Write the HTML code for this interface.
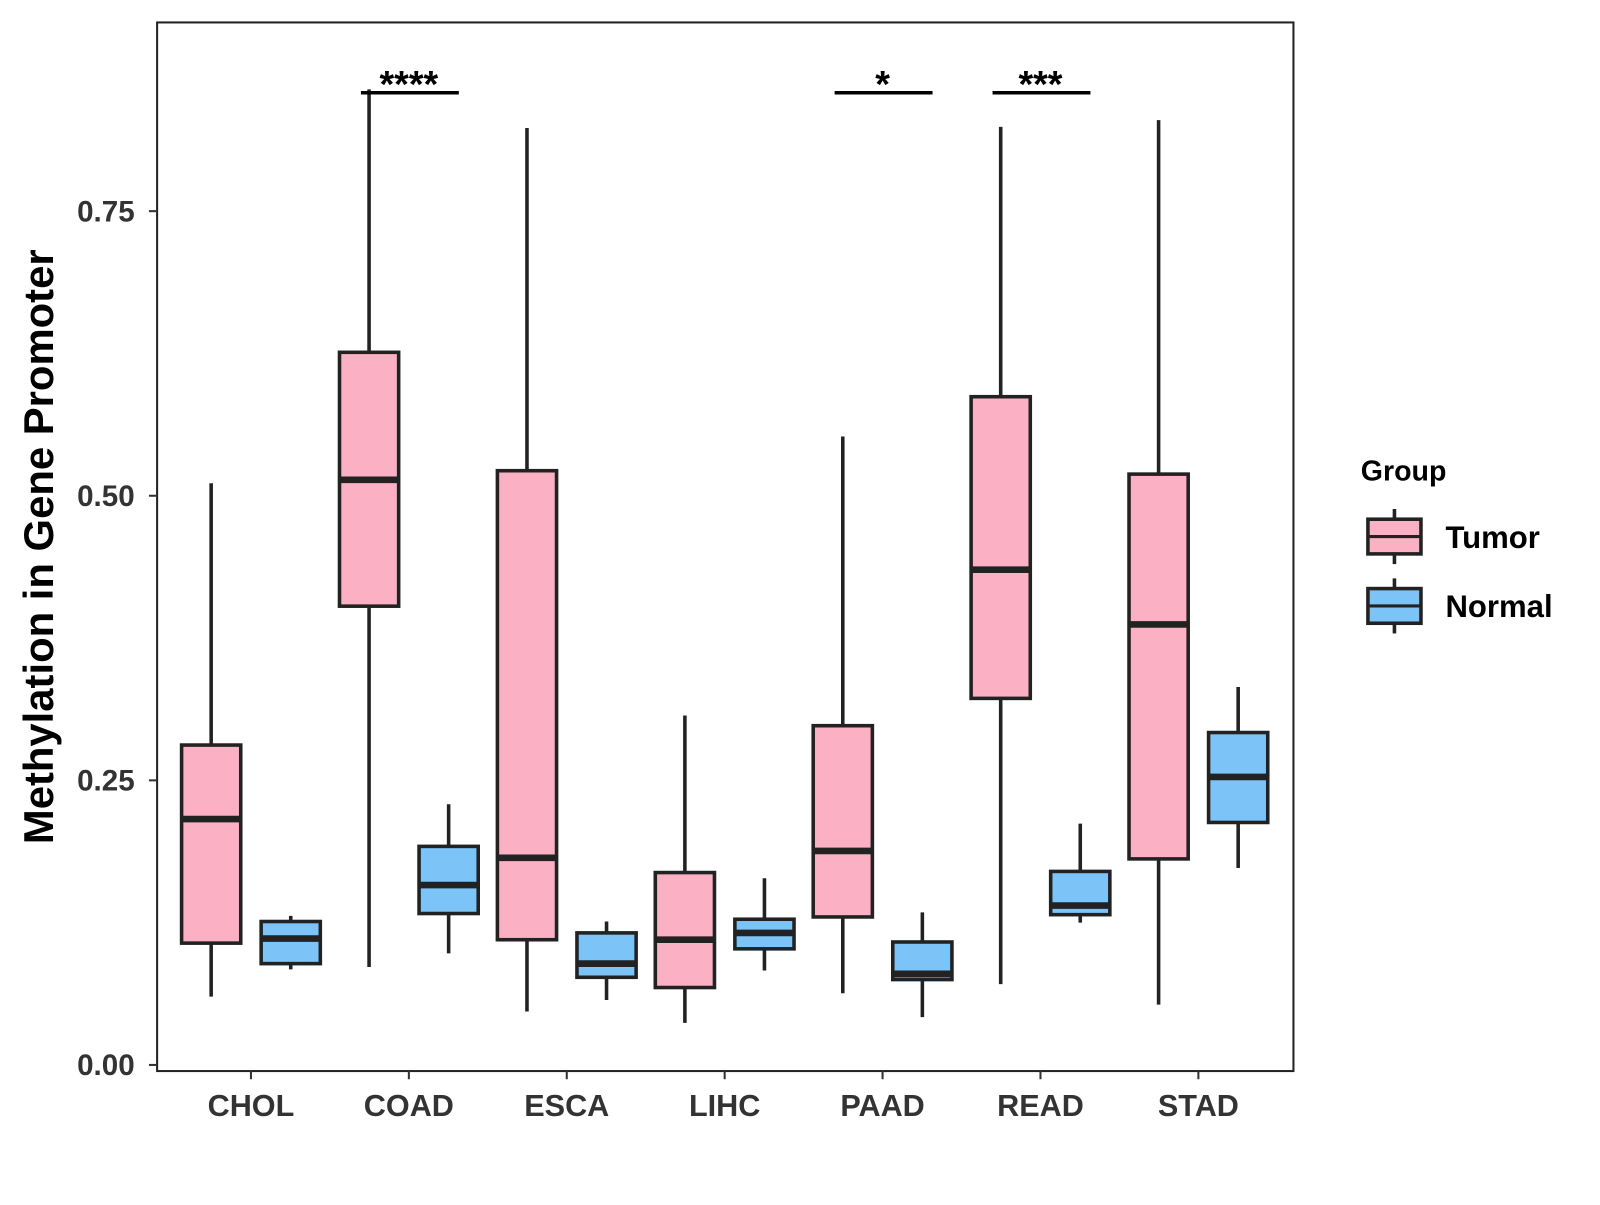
<!DOCTYPE html>
<html><head><meta charset="utf-8"><style>
body{margin:0;background:#fff;}
svg text{font-family:"Liberation Sans",Arial,sans-serif;font-weight:bold;}
</style></head><body>
<svg id="chart" width="1600" height="1200" viewBox="0 0 1568.5 1176.4">
<rect x="154" y="22" width="1114" height="1028" fill="#fff" stroke="#222" stroke-width="2"/>
<g id="marks"></g>
<g id="axes"></g>
<text transform="translate(52,536) rotate(-90)" text-anchor="middle" font-size="41" fill="#000">Methylation in Gene Promoter</text>
<g>
<text x="1334" y="471" font-size="28" fill="#000">Group</text>
<g>
<line x1="1367" y1="499" x2="1367" y2="553" stroke="#222" stroke-width="3.5"/>
<rect x="1341" y="509" width="52" height="34" fill="#FBB0C3" stroke="#222" stroke-width="3.5"/>
<line x1="1341" y1="526" x2="1393" y2="526" stroke="#222" stroke-width="3"/>
<text x="1417" y="537" font-size="30.5" fill="#000">Tumor</text></g>
<g>
<line x1="1367" y1="567" x2="1367" y2="621" stroke="#222" stroke-width="3.5"/>
<rect x="1341" y="577" width="52" height="34" fill="#7CC4F8" stroke="#222" stroke-width="3.5"/>
<line x1="1341" y1="594" x2="1393" y2="594" stroke="#222" stroke-width="3"/>
<text x="1417" y="605" font-size="30.5" fill="#000">Normal</text></g>
</g>
</svg>
<script>
const categories=["CHOL","COAD","ESCA","LIHC","PAAD","READ","STAD"];
// [min,q1,median,q3,max]
const tumorStats=[[0.060,0.107,0.216,0.281,0.511],[0.086,0.403,0.514,0.626,0.857],[0.047,0.110,0.182,0.522,0.823],[0.037,0.068,0.110,0.169,0.307],[0.063,0.130,0.188,0.298,0.552],[0.071,0.322,0.435,0.587,0.824],[0.053,0.181,0.387,0.519,0.830]];
const normalStats=[[0.084,0.089,0.111,0.126,0.131],[0.098,0.133,0.158,0.192,0.229],[0.057,0.077,0.089,0.116,0.126],[0.083,0.102,0.116,0.128,0.164],[0.042,0.075,0.080,0.108,0.134],[0.125,0.132,0.140,0.170,0.212],[0.173,0.213,0.253,0.292,0.332]];
const yTicks=[0,0.25,0.5,0.75];
const yTickLabels=["0.00","0.25","0.50","0.75"];
const sigCategories=["COAD","PAAD","READ"];
const sigLabels=["****","*","***"];
const sigLevel=0.854;
const NS="http://www.w3.org/2000/svg";
const yS=v=>1044-v*1116;
const xS=i=>246+i*154.8;
const marks=document.getElementById('marks'),axes=document.getElementById('axes');
function mk(tag,attrs,parent){const e=document.createElementNS(NS,tag);for(const k in attrs)e.setAttribute(k,attrs[k]);parent.appendChild(e);return e;}
function box(cx,s,fill,name){
const g=mk('g',{},marks);


mk('line',{x1:cx,x2:cx,y1:yS(s[4]),y2:yS(s[0]),stroke:'#222','stroke-width':3.5},g);
mk('rect',{x:cx-29,y:yS(s[3]),width:58,height:yS(s[1])-yS(s[3]),fill:fill,stroke:'#222','stroke-width':3.5},g);
mk('line',{x1:cx-29,x2:cx+29,y1:yS(s[2]),y2:yS(s[2]),stroke:'#222','stroke-width':6.5},g);}
categories.forEach((c,i)=>{
box(xS(i)-39,tumorStats[i],'#FBB0C3','box-tumor-'+c.toLowerCase());
box(xS(i)+39,normalStats[i],'#7CC4F8','box-normal-'+c.toLowerCase());
mk('line',{x1:xS(i),x2:xS(i),y1:1050,y2:1058,stroke:'#333','stroke-width':2},axes);
const t=mk('text',{x:xS(i),y:1094,'text-anchor':'middle','font-size':30,fill:'#333'},axes);


t.textContent=c;});
yTicks.forEach((v,i)=>{
mk('line',{x1:146,x2:154,y1:yS(v),y2:yS(v),stroke:'#333','stroke-width':2},axes);
const t=mk('text',{x:132,y:yS(v)+10,'text-anchor':'end','font-size':29,fill:'#333'},axes);


t.textContent=yTickLabels[i];});
sigCategories.forEach((c,j)=>{
const i=categories.indexOf(c);
const g=mk('g',{},marks);


mk('line',{x1:xS(i)-47,x2:xS(i)+49,y1:yS(sigLevel),y2:yS(sigLevel),stroke:'#000','stroke-width':3.5},g);
const t=mk('text',{x:xS(i),y:yS(sigLevel)+4,'text-anchor':'middle','font-size':37,fill:'#000'},g);
t.textContent=sigLabels[j];});
</script>
</body></html>
